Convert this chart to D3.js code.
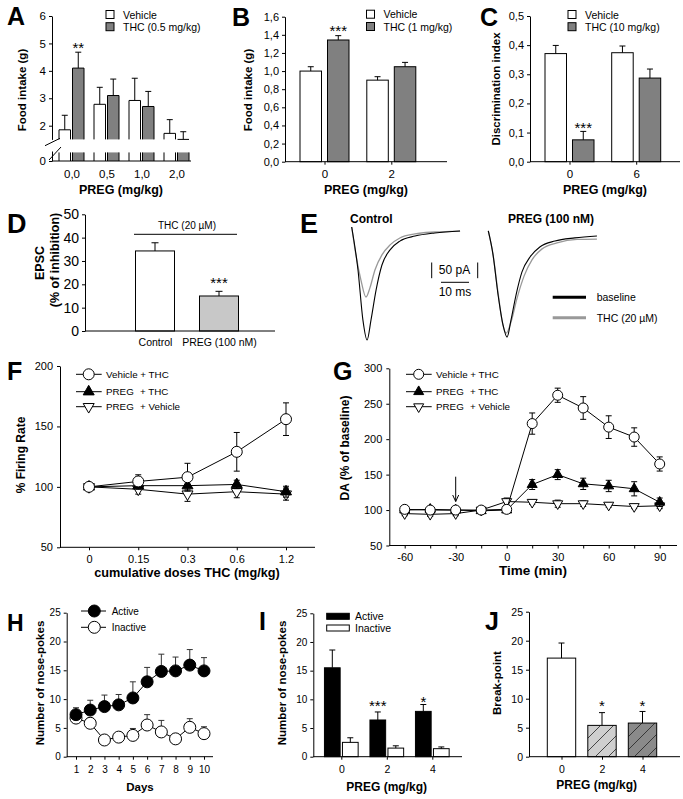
<!DOCTYPE html>
<html><head><meta charset="utf-8">
<script src="https://cdn.jsdelivr.net/npm/d3@7"></script>
<style>html,body{margin:0;padding:0;background:#fff}</style>
</head><body>
<script>
// ================= DATA =================
// Panel A
const aCats = ["0,0", "0,5", "1,0", "2,0"];
const aVehicle = [1.85, 2.78, 2.92, 1.72];
const aVehicleErr = [0.53, 0.62, 0.81, 0.50];
const aTHC = [4.10, 3.10, 2.70, 1.45];
const aTHCErr = [0.58, 0.60, 0.55, 0.33];
const aTicks = [2, 3, 4, 5, 6];
// Panel B
const bCats = ["0", "2"];
const bVehicle = [1.00, 0.90];
const bVehicleErr = [0.048, 0.038];
const bTHC = [1.343, 1.048];
const bTHCErr = [0.048, 0.048];
const bTicks = [0, 0.2, 0.4, 0.6, 0.8, 1.0, 1.2, 1.4, 1.6];
// Panel C
const cCats = ["0", "6"];
const cVehicle = [0.371, 0.374];
const cVehicleErr = [0.028, 0.023];
const cTHC = [0.075, 0.287];
const cTHCErr = [0.029, 0.031];
const cTicks = [0, 0.1, 0.2, 0.3, 0.4, 0.5];
// Panel D
const dCats = ["Control", "PREG (100 nM)"];
const dValues = [34.3, 15.0];
const dErr = [3.5, 2.0];
const dTicks = [0, 10, 20, 30, 40, 50];
// Panel E  (time in ms, current in pA)
const eControlBaseline = [[0,16],[2.25,-121],[4.0,-280],[5.5,-344],[6.9,-280],[8.7,-185],[10.8,-105],[13.7,-57],[17.2,-29],[22.6,-13],[29.7,-3],[38.7,3]];
const eControlTHC = [[0,16],[1.5,-73],[3.3,-153],[5.1,-207],[6.5,-178],[8.3,-121],[10.8,-73],[13.7,-41],[17.2,-19],[22.6,-6],[29.7,0],[38.7,3]];
const ePregBaseline = [[0,16],[1.7,-60],[3.5,-188],[5.25,-283],[6.7,-322],[8.1,-268],[9.9,-188],[12.0,-115],[14.9,-67],[18.4,-35],[23.8,-16],[30.9,-6],[38.8,0]];
const ePregTHC = [[0,16],[1.7,-60],[3.5,-182],[5.0,-274],[6.4,-309],[8.1,-274],[10.3,-197],[12.8,-127],[15.6,-76],[19.2,-41],[24.5,-22],[31.7,-11],[38.8,-10]];
// Panel F
const fDoses = ["0", "0.15", "0.3", "0.6", "1.2"];
const fVehTHC = [100, 104.5, 108, 129, 156];
const fVehTHCErr = [1.5, 5.5, 11.5, 16, 13.5];
const fPregTHC = [100, 101, 101, 102, 96];
const fPregTHCErr = [1, 3, 3.5, 3.5, 4.5];
const fPregVeh = [100, 98, 94, 96, 94];
const fPregVehErr = [1, 4, 6, 5, 5];
const fTicks = [50, 100, 150, 200];
// Panel G
const gTimes = [-60, -45, -30, -15, 0, 15, 30, 45, 60, 75, 90];
const gVehTHC = [101, 100, 100, 100, 101, 222, 262, 244, 217, 203, 165];
const gVehTHCErr = [3, 3, 2, 3, 3, 15, 10, 16, 16, 13, 10];
const gPregTHC = [100, 101, 100, 99, 100, 136, 150, 137, 134, 130, 111];
const gPregTHCErr = [3, 3, 3, 2, 2, 7, 7, 8, 8, 10, 6];
const gPregVeh = [95, 94, 95, 100, 112, 111, 109, 109, 107, 105, 106];
const gPregVehErr = [3, 3, 3, 3, 5, 3, 5, 4, 3, 3, 4];
const gTicksY = [50, 100, 150, 200, 250, 300];
const gTicksX = [-60, -45, -30, -15, 0, 15, 30, 45, 60, 75, 90];
// Panel H
const hDays = [1, 2, 3, 4, 5, 6, 7, 8, 9, 10];
const hActive = [7.3, 8.1, 8.7, 9.0, 10.2, 13.0, 14.8, 14.9, 15.9, 14.9];
const hActiveErr = [1.2, 1.7, 2.0, 1.8, 2.8, 2.5, 3.0, 2.4, 2.7, 2.3];
const hInactive = [6.7, 5.8, 2.9, 3.4, 3.7, 5.5, 4.3, 3.1, 5.1, 4.0];
const hInactiveErr = [0.8, 0.9, 0.7, 0.6, 1.2, 1.8, 2.0, 0.8, 1.5, 1.2];
const hTicks = [0, 5, 10, 15, 20, 25];
// Panel I
const iCats = ["0", "2", "4"];
const iActive = [15.5, 6.4, 7.9];
const iActiveErr = [3.1, 1.4, 1.2];
const iInactive = [2.5, 1.5, 1.4];
const iInactiveErr = [0.8, 0.4, 0.3];
// Panel J
const jCats = ["0", "2", "4"];
const jValues = [17.0, 5.4, 5.8];
const jErr = [2.6, 2.2, 2.0];

// ================= DRAWING =================
const FONT = "Arial, 'Liberation Sans', Helvetica, sans-serif";
const svg = d3.select("body").append("svg").attr("width", 683).attr("height", 799)
  .attr("font-family", FONT);
svg.append("rect").attr("width", 683).attr("height", 799).attr("fill", "#fff");

const defs = svg.append("defs");
function hatch(id, fill) {
  const p = defs.append("pattern").attr("id", id).attr("patternUnits", "userSpaceOnUse")
    .attr("width", 13).attr("height", 13);
  p.append("rect").attr("width", 13).attr("height", 13).attr("fill", fill);
  p.append("path").attr("d", "M-2,15 L15,-2 M-4,4 L4,-4 M9,17 L17,9")
    .attr("stroke", "#222").attr("stroke-width", 0.8);
}
hatch("hatchLight", "#cfcfcf");
hatch("hatchDark", "#8a8a8a");

const comma1 = d => d.toFixed(1).replace(".", ",");
const intFmt = d => String(Math.round(d));

function axisStyle(g, fs) {
  g.attr("font-family", FONT).attr("font-size", fs);
  g.selectAll("text").attr("fill", "#000");
  g.selectAll("line").attr("stroke", "#000");
  g.select(".domain").attr("stroke", "#000");
}
function line(g, x1, y1, x2, y2, stroke = "#000", w = 1) {
  return g.append("line").attr("x1", x1).attr("y1", y1).attr("x2", x2).attr("y2", y2)
    .attr("stroke", stroke).attr("stroke-width", w);
}
function text(g, x, y, s, fs, opts = {}) {
  const t = g.append("text").attr("x", x).attr("y", y).text(s).attr("font-size", fs)
    .attr("fill", "#000").attr("dominant-baseline", opts.baseline || "central")
    .attr("text-anchor", opts.anchor || "start");
  if (opts.bold) t.attr("font-weight", "bold");
  return t;
}
function vtext(g, x, y, s, fs) {
  return g.append("text").attr("transform", `translate(${x},${y}) rotate(-90)`)
    .attr("text-anchor", "middle").attr("dominant-baseline", "central")
    .attr("font-size", fs).attr("font-weight", "bold").attr("fill", "#000").text(s);
}
function letter(s, x, y, fs = 25) {
  svg.append("text").attr("x", x).attr("y", y).text(s).attr("font-size", fs)
    .attr("font-weight", "bold").attr("fill", "#000");
}
function errUp(g, x, y0, y1, cw = 6, stroke = "#000") {
  line(g, x, y0, x, y1, stroke);
  line(g, x - cw / 2, y1, x + cw / 2, y1, stroke);
}
function errBoth(g, x, yLo, yHi, cw = 6) {
  line(g, x, yLo, x, yHi);
  line(g, x - cw / 2, yLo, x + cw / 2, yLo);
  line(g, x - cw / 2, yHi, x + cw / 2, yHi);
}
function bottomAxis(g, scale, y, x1, x2, fs, opts = {}) {
  const ax = d3.axisBottom(scale).tickSize(opts.tick ?? 3).tickPadding(opts.pad ?? 5).tickSizeOuter(0);
  if (opts.values) ax.tickValues(opts.values);
  if (opts.format) ax.tickFormat(opts.format);
  const a = g.append("g").attr("transform", `translate(0,${y})`).call(ax).call(axisStyle, fs);
  a.select(".domain").remove();
  line(g, x1, y, x2, y);
  return a;
}
function leftAxis(g, scale, x, values, fs, format, pad = 3) {
  const ax = d3.axisLeft(scale).tickValues(values).tickSize(3).tickPadding(pad).tickSizeOuter(0);
  if (format) ax.tickFormat(format);
  return g.append("g").attr("transform", `translate(${x},0)`).call(ax).call(axisStyle, fs);
}
function groupedBars(g, xs, sub, y, series, base) {
  series.forEach(s => {
    s.values.forEach((v, i) => {
      const x0 = xs(xs.domain()[i]) + sub(s.name);
      const w = sub.bandwidth();
      g.append("rect").attr("x", x0).attr("y", y(v)).attr("width", w)
        .attr("height", y(base) - y(v)).attr("fill", s.fill).attr("stroke", "#000").attr("stroke-width", 1);
      errUp(g, x0 + w / 2, y(v), y(v + s.errs[i]));
    });
  });
}
function legendBox(g, x, y, label, fill, fs) {
  g.append("rect").attr("x", x).attr("y", y - 4).attr("width", 8).attr("height", 8)
    .attr("fill", fill).attr("stroke", "#000");
  text(g, x + 17, y, label, fs);
}
function stars(g, x, y, s) {
  text(g, x, y + 8, s, 15, {anchor: "middle", baseline: "auto"});
}

// ---------- Panel A ----------
{
  const g = svg.append("g");
  const yA = d3.scaleLinear().domain([1.5, 6]).range([139.4, 16]);
  const yA0 = d3.scaleLinear().domain([0, 0.35]).range([161, 151]);
  const xA = d3.scalePoint().domain(aCats).range([71.5, 176.5]);
  const sub = d3.scaleBand().domain(["Vehicle", "THC"]).range([-12.5, 12.5]).paddingInner(2 / 13.5);
  const series = [
    {name: "Vehicle", values: aVehicle, errs: aVehicleErr, fill: "#fff"},
    {name: "THC", values: aTHC, errs: aTHCErr, fill: "#808080"}];
  series.forEach(s => s.values.forEach((v, i) => {
    const x0 = xA(aCats[i]) + sub(s.name), w = sub.bandwidth();
    const top = yA(Math.max(v, 1.5)), bot = yA(1.5);
    g.append("rect").attr("x", x0).attr("y", top).attr("width", w).attr("height", bot - top).attr("fill", s.fill);
    g.append("path").attr("d", `M${x0},${bot}V${top}H${x0 + w}V${bot}`).attr("fill", "none").attr("stroke", "#000");
    const st = yA0(0.3), sb = yA0(0);
    g.append("rect").attr("x", x0).attr("y", st).attr("width", w).attr("height", sb - st).attr("fill", s.fill);
    g.append("path").attr("d", `M${x0},${st}V${sb}M${x0 + w},${st}V${sb}`).attr("stroke", "#000");
    errUp(g, x0 + w / 2, top, yA(v + s.errs[i]));
  }));
  leftAxis(g, yA, 52, aTicks, 11.5, intFmt);
  leftAxis(g, yA0, 52, [0], 11.5, intFmt);
  bottomAxis(g, xA, 161, 52, 191, 11.5, {tick: 0, pad: 9});
  line(g, 45, 145.7, 60, 138.3);
  line(g, 49, 160, 61, 147);
  legendBox(g, 106, 14.5, "Vehicle", "#fff", 10.5);
  legendBox(g, 106, 26.7, "THC (0.5 mg/kg)", "#808080", 10.5);
  stars(g, xA("0,0") + sub("THC") + sub.bandwidth() / 2, 45, "**");
  vtext(g, 21.7, 90, "Food intake (g)", 11.5);
  text(g, 121, 190, "PREG (mg/kg)", 12.5, {anchor: "middle", bold: true});
  letter("A", 7, 25);
}

// ---------- Panel B ----------
{
  const g = svg.append("g");
  const y = d3.scaleLinear().domain([0, 1.6]).range([161.7, 16.7]);
  const x = d3.scalePoint().domain(bCats).range([324.5, 391.3]);
  const sub = d3.scaleBand().domain(["Vehicle", "THC"]).range([-24.5, 24.5]).paddingInner(6 / 27.5);
  groupedBars(g, x, sub, y, [
    {name: "Vehicle", values: bVehicle, errs: bVehicleErr, fill: "#fff"},
    {name: "THC", values: bTHC, errs: bTHCErr, fill: "#808080"}], 0);
  leftAxis(g, y, 285, bTicks, 11, comma1, 3);
  bottomAxis(g, x, 161.7, 285, 447, 11.5, {tick: 3, pad: 5});
  legendBox(g, 366.5, 14.2, "Vehicle", "#fff", 10.5);
  legendBox(g, 366.5, 26.5, "THC (1 mg/kg)", "#808080", 10.5);
  stars(g, x("0") + sub("THC") + sub.bandwidth() / 2, 28.3, "***");
  vtext(g, 248.3, 90, "Food intake (g)", 11.5);
  text(g, 366, 190, "PREG (mg/kg)", 12.5, {anchor: "middle", bold: true});
  letter("B", 232, 26);
}

// ---------- Panel C ----------
{
  const g = svg.append("g");
  const y = d3.scaleLinear().domain([0, 0.5]).range([161.7, 16]);
  const x = d3.scalePoint().domain(cCats).range([569.5, 636.2]);
  const sub = d3.scaleBand().domain(["Vehicle", "THC"]).range([-24.5, 24.5]).paddingInner(6 / 27.5);
  groupedBars(g, x, sub, y, [
    {name: "Vehicle", values: cVehicle, errs: cVehicleErr, fill: "#fff"},
    {name: "THC", values: cTHC, errs: cTHCErr, fill: "#808080"}], 0);
  leftAxis(g, y, 530, cTicks, 11, comma1, 3);
  bottomAxis(g, x, 161.7, 530, 680, 11.5, {tick: 3, pad: 5});
  legendBox(g, 568, 14.5, "Vehicle", "#fff", 10.5);
  legendBox(g, 568, 26.7, "THC (10 mg/kg)", "#808080", 10.5);
  stars(g, x("0") + sub("THC") + sub.bandwidth() / 2, 125, "***");
  vtext(g, 496, 89, "Discrimination index", 11.5);
  text(g, 605, 190, "PREG (mg/kg)", 12.5, {anchor: "middle", bold: true});
  letter("C", 480, 26);
}

// ---------- Panel D ----------
{
  const g = svg.append("g");
  const y = d3.scaleLinear().domain([0, 50]).range([331, 214.3]);
  const x = d3.scalePoint().domain(dCats).range([155, 219]);
  const fills = ["#fff", "#c8c8c8"];
  dValues.forEach((v, i) => {
    const cx = x(dCats[i]), w = 39;
    g.append("rect").attr("x", cx - w / 2).attr("y", y(v)).attr("width", w).attr("height", y(0) - y(v))
      .attr("fill", fills[i]).attr("stroke", "#000");
    errUp(g, cx, y(v), y(v + dErr[i]), 7);
  });
  leftAxis(g, y, 85, dTicks, 14, intFmt, 3);
  bottomAxis(g, x, 331, 85, 275, 10.5, {tick: 0, pad: 8});
  line(g, 134, 234.3, 237, 234.3);
  text(g, 187, 225.5, "THC (20 µM)", 10, {anchor: "middle"});
  stars(g, x(dCats[1]), 280, "***");
  vtext(g, 40, 263, "EPSC", 12.5);
  vtext(g, 55, 260, "(% of inhibition)", 12.5);
  letter("D", 7, 233, 27);
}

// ---------- Panel E ----------
{
  const g = svg.append("g");
  const ex = d3.scaleLinear().domain([0, 10]).range([0, 28]);
  const ey = d3.scaleLinear().domain([0, -50]).range([0, 15.7]);
  const lg = d3.line().x(d => ex(d[0])).y(d => ey(d[1])).curve(d3.curveMonotoneX);
  const gc = g.append("g").attr("transform", "translate(351.7,232)");
  gc.append("path").attr("d", lg(eControlTHC)).attr("fill", "none").attr("stroke", "#999").attr("stroke-width", 1.3);
  gc.append("path").attr("d", lg(eControlBaseline)).attr("fill", "none").attr("stroke", "#000").attr("stroke-width", 1.1);
  const gp = g.append("g").attr("transform", "translate(488.3,236)");
  gp.append("path").attr("d", lg(ePregTHC)).attr("fill", "none").attr("stroke", "#999").attr("stroke-width", 1.3);
  gp.append("path").attr("d", lg(ePregBaseline)).attr("fill", "none").attr("stroke", "#000").attr("stroke-width", 1.1);
  const h50 = ey(-50) - ey(0), w10 = ex(10) - ex(0);
  line(g, 431.7, 262.5, 431.7, 262.5 + h50);
  line(g, 477.7, 262.5, 477.7, 262.5 + h50);
  line(g, 441, 282.3, 441 + w10, 282.3);
  text(g, 454.5, 269.5, "50 pA", 12, {anchor: "middle"});
  text(g, 455, 291.5, "10 ms", 12, {anchor: "middle"});
  text(g, 350, 219, "Control", 12, {bold: true});
  text(g, 508, 219, "PREG (100 nM)", 12, {bold: true});
  line(g, 552.7, 297.3, 586, 297.3, "#000", 3);
  line(g, 552.7, 317.7, 586, 317.7, "#999", 3);
  text(g, 596.7, 297.3, "baseline", 10.5);
  text(g, 596.7, 317.7, "THC (20 µM)", 10.5);
  letter("E", 300, 233, 27);
}

const symCircle = (r) => d3.symbol().type(d3.symbolCircle).size(Math.PI * r * r)();
const symTri = (s) => d3.symbol().type(d3.symbolTriangle).size(s * s * Math.sqrt(3) / 4)();
function marker(g, x, y, kind, size) {
  let p;
  if (kind === "circle") p = g.append("path").attr("d", symCircle(size)).attr("fill", "#fff");
  else if (kind === "dot") p = g.append("path").attr("d", symCircle(size)).attr("fill", "#000");
  else if (kind === "triUp") p = g.append("path").attr("d", symTri(size)).attr("fill", "#000");
  else p = g.append("path").attr("d", symTri(size)).attr("fill", "#fff");
  const rot = kind === "triDown" ? " rotate(180)" : "";
  p.attr("transform", `translate(${x},${y})${rot}`).attr("stroke", "#000").attr("stroke-width", 1);
}
function seriesPlot(g, xs, keys, y, vals, errs, kind, size, both = true) {
  const pts = keys.map((k, i) => [xs(k), y(vals[i])]);
  g.append("path").attr("d", d3.line()(pts)).attr("fill", "none").attr("stroke", "#000");
  keys.forEach((k, i) => {
    if (both) errBoth(g, xs(k), y(vals[i] - errs[i]), y(vals[i] + errs[i]), 6);
    else errUp(g, xs(k), y(vals[i]), y(vals[i] + errs[i]), 6, "#333");
  });
  keys.forEach((k, i) => marker(g, xs(k), y(vals[i]), kind, size));
}
function lineLegend(g, x, y, kind, size, label1, label2, fs) {
  line(g, x, y, x + 25.7, y);
  marker(g, x + 12.7, y, kind, size);
  text(g, x + 30, y, label1, fs);
  if (label2) text(g, x + 64, y, label2, fs);
}

// ---------- Panel F ----------
{
  const g = svg.append("g");
  const y = d3.scaleLinear().domain([50, 200]).range([547.3, 366]);
  const x = d3.scalePoint().domain(fDoses).range([89, 286]);
  seriesPlot(g, x, fDoses, y, fPregVeh, fPregVehErr, "triDown", 11);
  seriesPlot(g, x, fDoses, y, fPregTHC, fPregTHCErr, "triUp", 11);
  seriesPlot(g, x, fDoses, y, fVehTHC, fVehTHCErr, "circle", 5.5);
  leftAxis(g, y, 60, fTicks, 11, intFmt, 4);
  bottomAxis(g, x, 547.3, 60, 315, 11, {tick: 3, pad: 5});
  lineLegend(g, 76, 374.3, "circle", 5.5, "Vehicle + THC", null, 9.8);
  lineLegend(g, 76, 391.7, "triUp", 11, "PREG", "+ THC", 9.8);
  lineLegend(g, 76, 406.7, "triDown", 11, "PREG", "+ Vehicle", 9.8);
  vtext(g, 21, 455, "% Firing Rate", 12);
  text(g, 187, 572.5, "cumulative doses THC (mg/kg)", 12.7, {anchor: "middle", bold: true});
  letter("F", 7, 380);
}

// ---------- Panel G ----------
{
  const g = svg.append("g");
  const y = d3.scaleLinear().domain([50, 300]).range([545.5, 368.3]);
  const x = d3.scaleLinear().domain([-60, 90]).range([404.7, 659.7]);
  seriesPlot(g, x, gTimes, y, gPregVeh, gPregVehErr, "triDown", 10);
  seriesPlot(g, x, gTimes, y, gPregTHC, gPregTHCErr, "triUp", 10);
  seriesPlot(g, x, gTimes, y, gVehTHC, gVehTHCErr, "circle", 5);
  leftAxis(g, y, 389.3, gTicksY, 11, intFmt, 4);
  bottomAxis(g, x, 545.5, 389.3, 677, 11, {tick: 3, pad: 5, values: gTicksX,
    format: d => (d % 30 === 0 ? String(d) : "")});
  const ax = x(-30);
  line(g, ax, 476.7, ax, 501.5);
  g.append("path").attr("d", `M${ax - 3},${495}L${ax},${501.5}L${ax + 3},${495}`).attr("fill", "none").attr("stroke", "#000");
  lineLegend(g, 406, 374.3, "circle", 5, "Vehicle + THC", null, 9.8);
  lineLegend(g, 406, 391.7, "triUp", 10, "PREG", "+ THC", 9.8);
  lineLegend(g, 406, 406.7, "triDown", 10, "PREG", "+ Vehicle", 9.8);
  vtext(g, 345, 448, "DA (% of baseline)", 12);
  text(g, 533, 570, "Time (min)", 13.5, {anchor: "middle", bold: true});
  letter("G", 333, 380);
}

// ---------- Panel H ----------
{
  const g = svg.append("g");
  const y = d3.scaleLinear().domain([0, 25]).range([756.7, 612.7]);
  const x = d3.scaleLinear().domain([1, 10]).range([76, 204]);
  seriesPlot(g, x, hDays, y, hInactive, hInactiveErr, "circle", 6, false);
  seriesPlot(g, x, hDays, y, hActive, hActiveErr, "dot", 6, false);
  leftAxis(g, y, 66.7, hTicks, 10, intFmt, 3);
  bottomAxis(g, x, 756.7, 66.7, 213, 10, {tick: 3, pad: 6, values: hDays, format: intFmt});
  line(g, 81, 611, 106, 611);
  marker(g, 94.3, 611, "dot", 6);
  text(g, 111.7, 611, "Active", 10);
  line(g, 81, 627.3, 106, 627.3);
  marker(g, 94.3, 627.3, "circle", 6);
  text(g, 111.7, 627.3, "Inactive", 10);
  vtext(g, 40, 683, "Number of nose-pokes", 11.5);
  text(g, 140, 786.7, "Days", 11.5, {anchor: "middle", bold: true});
  letter("H", 7, 631, 23);
}

// ---------- Panel I ----------
{
  const g = svg.append("g");
  const y = d3.scaleLinear().domain([0, 25]).range([756.7, 613.3]);
  const x = d3.scalePoint().domain(iCats).range([341.3, 432.3]);
  const sub = d3.scaleBand().domain(["Active", "Inactive"]).range([-16.85, 16.85]).paddingInner(2.3 / 18);
  groupedBars(g, x, sub, y, [
    {name: "Active", values: iActive, errs: iActiveErr, fill: "#000"},
    {name: "Inactive", values: iInactive, errs: iInactiveErr, fill: "#fff"}], 0);
  leftAxis(g, y, 313.3, hTicks, 10, intFmt, 3);
  bottomAxis(g, x, 756.7, 313.3, 462, 10.5, {tick: 3, pad: 6});
  g.append("rect").attr("x", 326.7).attr("y", 613.3).attr("width", 22.6).attr("height", 6).attr("fill", "#000").attr("stroke", "#000");
  text(g, 355, 616.3, "Active", 10.5);
  g.append("rect").attr("x", 326.7).attr("y", 625).attr("width", 22.6).attr("height", 6).attr("fill", "#fff").attr("stroke", "#000");
  text(g, 355, 628, "Inactive", 10.5);
  stars(g, x("2") + sub("Active") + sub.bandwidth() / 2, 703.3, "***");
  stars(g, x("4") + sub("Active") + sub.bandwidth() / 2, 699, "*");
  vtext(g, 281.7, 683, "Number of nose-pokes", 11.5);
  text(g, 386.7, 786.7, "PREG (mg/kg)", 12, {anchor: "middle", bold: true});
  letter("I", 259, 630);
}

// ---------- Panel J ----------
{
  const g = svg.append("g");
  const y = d3.scaleLinear().domain([0, 25]).range([756.7, 611.7]);
  const x = d3.scalePoint().domain(jCats).range([561.5, 642.5]);
  const fills = ["#fff", "url(#hatchLight)", "url(#hatchDark)"];
  jValues.forEach((v, i) => {
    const cx = x(jCats[i]), w = 28.4;
    g.append("rect").attr("x", cx - w / 2).attr("y", y(v)).attr("width", w).attr("height", y(0) - y(v))
      .attr("fill", fills[i]).attr("stroke", "#000");
    errUp(g, cx, y(v), y(v + jErr[i]), 6);
    if (i > 0) stars(g, cx, 703.3, "*");
  });
  leftAxis(g, y, 529, hTicks, 10.5, intFmt, 3);
  bottomAxis(g, x, 756.7, 529, 680, 10.5, {tick: 3, pad: 6});
  vtext(g, 496.7, 683, "Break-point", 11.5);
  text(g, 596.7, 785, "PREG (mg/kg)", 12, {anchor: "middle", bold: true});
  letter("J", 485, 630);
}
</script>
</body></html>
